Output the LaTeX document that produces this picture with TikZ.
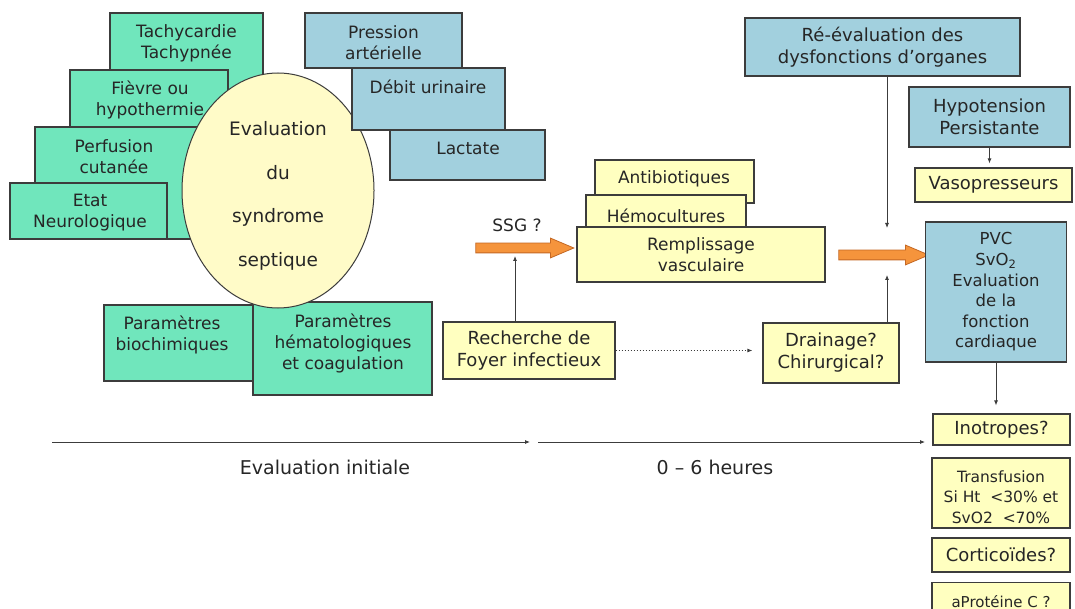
\documentclass[tikz,border=0pt]{standalone}
\usepackage{fontspec}
\setmainfont{DejaVu Sans}
\usetikzlibrary{arrows.meta,calc,shapes.geometric,shapes.arrows}
\definecolor{vertm}{RGB}{112,230,188}
\definecolor{bleum}{RGB}{162,208,222}
\definecolor{jaunem}{RGB}{255,255,192}
\definecolor{cremem}{RGB}{255,251,200}
\definecolor{orangec}{RGB}{245,148,60}
\definecolor{oranged}{RGB}{196,104,36}
\definecolor{traitm}{RGB}{60,60,60}
\tikzset{
  boite/.style={draw=traitm, line width=1.2pt},
  vert/.style={boite, fill=vertm},
  bleu/.style={boite, fill=bleum},
  jaune/.style={boite, fill=jaunem},
  txt/.style={align=center, inner sep=0pt, text=black!85, font=\fontsize{17}{21}\selectfont},
  txtd/.style={txt, font=\fontsize{18}{22}\selectfont},
  fleche/.style={-{Latex[length=5pt,width=4pt]}, line width=0.8pt, draw=traitm},
  grosse/.style={single arrow, draw=oranged, fill=orangec, line width=0.8pt, inner sep=4.5pt,
    single arrow head extend=5pt, single arrow tip angle=46}
}

\begin{document}
\begin{tikzpicture}[x=1pt,y=-1pt]
  \useasboundingbox (0,0) rectangle (1075,609);
  \fill[white] (0,0) rectangle (1075,609);
  % signes cliniques
  \draw[vert] (110,13) rectangle (263,100);
  \node[txt] (tachy) at (186.5,43.5) {Tachycardie\\Tachypnée};
  \draw[vert] (70,70) rectangle (228,150);
  \node[txt] (fievre) at (150,100) {Fièvre ou\\hypothermie};
  \draw[vert] (35,127) rectangle (200,239);
  \node[txt] (perf) at (114,157) {Perfusion\\cutanée};
  \draw[vert] (10,183) rectangle (167,239);
  \node[txt] (etat) at (90,213) {Etat\\Neurologique};
  \draw[vert] (104,305) rectangle (253,381);
  \node[txt] (bioch) at (172,335) {Paramètres\\biochimiques};
  \draw[vert] (253,302) rectangle (432,395);
  \node[txt] (hemato) at (343,343.5) {Paramètres\\hématologiques\\et coagulation};
  \node[boite, ellipse, fill=cremem, line width=1pt, minimum width=192pt, minimum height=235pt] (eval) at (278,190.5) {};
  \node[txt, font=\fontsize{18.5}{43.7}\selectfont] (evalt) at (278,196) {Evaluation\\du\\syndrome\\septique};
  % hemodynamique
  \draw[bleu] (305,13) rectangle (462,68);
  \node[txt] (pression) at (383.5,43) {Pression\\artérielle};
  \draw[bleu] (352,68) rectangle (505,130);
  \node[txt] (debit) at (428,87) {Débit urinaire};
  \draw[bleu] (390,130) rectangle (545,180);
  \node[txt] (lactate) at (468,148) {Lactate};

  \node[grosse, minimum height=98pt] (ssg) at (519,248) {};
  \node[txt] (ssgt) at (517,225) {SSG ?};
  \node[jaune, txtd, minimum width=172pt, minimum height=57pt] (rech) at (529,350.5) {Recherche de\\Foyer infectieux};
  \coordinate (c3) at (515,256);
  \draw[fleche] (rech.north -| c3) -- (c3);

  \draw[jaune] (595,160) rectangle (754,203);
  \node[txt] (antib) at (674,179) {Antibiotiques};
  \draw[jaune] (586,195) rectangle (746,240);
  \node[txt] (hemoc) at (666,216) {Hémocultures};
  \node[jaune, txt, minimum width=248pt, minimum height=55pt] (rempl) at (701,254.5) {Remplissage\\vasculaire};
  \node[grosse, minimum height=90pt] (fl2) at (878,255) {};

  \node[jaune, txtd, minimum width=136pt, minimum height=60pt] (drain) at (831,353) {Drainage?\\Chirurgical?};
  \draw[fleche, line width=1pt, dash pattern=on 1.5pt off 1.5pt] (rech.east) -- ($(rech.east -| drain.west)+(-10,0)$);
  % reevaluation
  \node[bleu, txtd, minimum width=275pt, minimum height=58pt] (reeval) at (882.5,47) {Ré-évaluation des\\dysfonctions d’organes};
  \node[bleu, txtd, minimum width=161pt, minimum height=60pt] (hypo) at (989.5,117) {Hypotension\\Persistante};
  \node[jaune, txtd, minimum width=157pt, minimum height=34pt] (vaso) at (993.5,185) {Vasopresseurs};
  \node[bleu, txt, font=\fontsize{16.5}{20.6}\selectfont, minimum width=141pt, minimum height=140pt] (pvc) at (996,292)
    {PVC\\SvO\textsubscript{2}\\Evaluation\\de la\\fonction\\cardiaque};
  \coordinate (c1) at (887,228);
  \coordinate (c2) at (887,275);
  \draw[fleche] (reeval.south -| c1) -- (c1);
  \draw[fleche] (drain.north -| c2) -- (c2);
  \draw[fleche, shorten >=4pt] (hypo.south) -- (hypo.south |- vaso.north);

  \node[jaune, txtd, minimum width=137pt, minimum height=31pt] (inot) at (1001.5,429.5) {Inotropes?};
  \draw[jaune] (932,458) rectangle (1070,528);
  \node[txt, font=\fontsize{15.5}{20.5}\selectfont] (transf) at (1001,497)
    {Transfusion\\Si Ht~ <30\% et\\SvO2~ <70\%};
  \node[jaune, txtd, minimum width=138pt, minimum height=34pt] (cortic) at (1001,555) {Corticoïdes?};
  \node[jaune, txt, font=\fontsize{15}{18}\selectfont, minimum width=138pt, minimum height=38pt, anchor=north] (aprot) at (1001,582) {aProtéine C ?};
  \draw[fleche, shorten >=8pt] (pvc.south) -- (pvc.south |- inot.north);
  % axe du temps
  \coordinate (t0) at (52,442);
  \coordinate (t1) at (530,442);
  \coordinate (t2) at (538,442);
  \coordinate (t3) at (925,442);
  \draw[fleche] (t0) -- (t1);
  \draw[fleche] (t2) -- (t3);
  \node[txt, font=\fontsize{19}{22}\selectfont] (evalinit) at (325,467) {Evaluation initiale};
  \node[txt, font=\fontsize{19}{22}\selectfont] (heures) at (715,467) {0 – 6 heures};
\end{tikzpicture}
\end{document}
